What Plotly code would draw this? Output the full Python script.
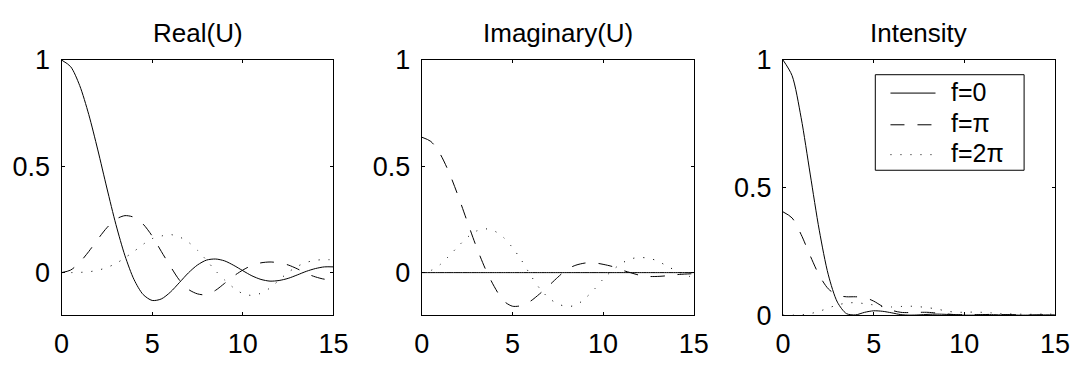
import plotly.graph_objects as go

# ---------------- data ----------------
v = [0.0, 0.5, 1.0, 1.5, 2.0, 2.5, 3.0, 3.5, 4.0, 4.5, 5.0, 5.5, 6.0, 6.5, 7.0, 7.5,
     8.0, 8.5, 9.0, 9.5, 10.0, 10.5, 11.0, 11.5, 12.0, 12.5, 13.0, 13.5, 14.0, 14.5, 15.0]

re_f0 = [1.000, 0.969, 0.880, 0.744, 0.577, 0.398, 0.226, 0.079, -0.033, -0.103, -0.131,
         -0.124, -0.092, -0.047, -0.001, 0.036, 0.059, 0.064, 0.055, 0.034, 0.009, -0.015,
         -0.032, -0.040, -0.037, -0.027, -0.011, 0.006, 0.019, 0.027, 0.027]
re_fpi = [0.000, 0.012, 0.048, 0.099, 0.157, 0.211, 0.251, 0.268, 0.260, 0.228, 0.172,
          0.100, 0.030, -0.035, -0.079, -0.100, -0.104, -0.083, -0.050, -0.016, 0.012,
          0.034, 0.046, 0.050, 0.046, 0.036, 0.018, -0.004, -0.020, -0.031, -0.033]
re_f2pi = [0.000, 0.000, 0.001, 0.004, 0.011, 0.024, 0.043, 0.070, 0.100, 0.133, 0.160,
           0.172, 0.179, 0.168, 0.143, 0.105, 0.058, 0.008, -0.035, -0.072, -0.099,
           -0.107, -0.097, -0.072, -0.035, 0.001, 0.029, 0.048, 0.058, 0.061, 0.060]

im_f0 = [0.0, 0.0, 0.0, 0.0, 0.0, 0.0, 0.0, 0.0, 0.0, 0.0, 0.0, 0.0, 0.0, 0.0, 0.0, 0.0,
         0.0, 0.0, 0.0, 0.0, 0.0, 0.0, 0.0, 0.0, 0.0, 0.0, 0.0, 0.0, 0.0, 0.0, 0.0]
im_fpi = [0.637, 0.617, 0.560, 0.472, 0.362, 0.242, 0.124, 0.019, -0.066, -0.132, -0.158,
          -0.155, -0.134, -0.100, -0.062, -0.022, 0.015, 0.035, 0.045, 0.046, 0.039,
          0.029, 0.013, 0.000, -0.012, -0.018, -0.018, -0.015, -0.010, -0.007, -0.005]
im_f2pi = [0.000, 0.010, 0.037, 0.078, 0.123, 0.165, 0.195, 0.206, 0.196, 0.166, 0.118,
           0.058, -0.012, -0.074, -0.119, -0.147, -0.159, -0.153, -0.122, -0.080, -0.031,
           0.010, 0.042, 0.064, 0.071, 0.068, 0.055, 0.032, 0.010, -0.009, -0.025]

int_f0 = [1.000, 0.939, 0.774, 0.553, 0.333, 0.158, 0.051, 0.006, 0.001, 0.011, 0.017,
          0.015, 0.009, 0.002, 0.000, 0.001, 0.003, 0.004, 0.003, 0.001, 0.000, 0.000,
          0.001, 0.002, 0.001, 0.001, 0.000, 0.000, 0.000, 0.001, 0.001]
int_fpi = [0.405, 0.381, 0.316, 0.233, 0.156, 0.103, 0.078, 0.072, 0.072, 0.069, 0.055,
           0.034, 0.019, 0.011, 0.010, 0.011, 0.011, 0.008, 0.005, 0.002, 0.002, 0.002,
           0.002, 0.003, 0.002, 0.002, 0.001, 0.000, 0.001, 0.001, 0.001]
int_f2pi = [0.000, 0.000, 0.001, 0.006, 0.015, 0.028, 0.040, 0.047, 0.049, 0.045, 0.040,
            0.033, 0.032, 0.034, 0.035, 0.033, 0.029, 0.024, 0.016, 0.012, 0.011, 0.012,
            0.011, 0.009, 0.006, 0.005, 0.004, 0.003, 0.004, 0.004, 0.004]

titles = ["Real(U)", "Imaginary(U)", "Intensity"]
legend_labels = ["f=0", "f=\u03c0", "f=2\u03c0"]
x_ticks = [0, 5, 10, 15]
y_ticks = [0, 0.5, 1]
y_ticktext = ["0", "0.5", "1"]

# ---------------- styling ----------------
W, H = 1090, 369
FONT = "Liberation Sans, Arial, Helvetica, sans-serif"
DASH_SOLID = "solid"
DASH_DASHED = "14px,13px"
DASH_DOTTED = "1px,9px"
styles = [DASH_SOLID, DASH_DASHED, DASH_DOTTED]

fig = go.Figure()

panels = [
    ("x", "y", [re_f0, re_fpi, re_f2pi]),
    ("x2", "y2", [im_f0, im_fpi, im_f2pi]),
    ("x3", "y3", [int_f0, int_fpi, int_f2pi]),
]
for xa, ya, series in panels:
    for s, dash, name in zip(series, styles, legend_labels):
        fig.add_trace(go.Scatter(
            x=v, y=s, mode="lines", name=name, xaxis=xa, yaxis=ya,
            line=dict(color="black", width=1, dash=dash, shape="spline", smoothing=0.8),
            showlegend=False, hoverinfo="skip"))

x_domains = [[54.7 / W, 332.5 / W], [422.7 / W, 700.5 / W], [791.7 / W, 1069.5 / W]]
y_domain = [1 - 326.7 / H, 1 - 49 / H]

common = dict(showline=True, linecolor="black", linewidth=1, mirror="allticks",
              ticks="inside", ticklen=3, tickwidth=1, tickcolor="black",
              showgrid=False, zeroline=False,
              tickfont=dict(family=FONT, size=27, color="black"))

layout_axes = {}
for i, dom in enumerate(x_domains):
    k = "" if i == 0 else str(i + 1)
    layout_axes["xaxis" + k] = dict(common, domain=dom, range=[0, 15], tickmode="array",
                                    tickvals=x_ticks, anchor="y" + k, ticklabelstandoff=4)
    yr = [-0.2, 1] if i < 2 else [0, 1]
    layout_axes["yaxis" + k] = dict(common, domain=y_domain, range=yr, tickmode="array",
                                    tickvals=y_ticks, ticktext=y_ticktext, anchor="x" + k,
                                    ticklabelstandoff=5)

annotations = []
for dom, t in zip(x_domains, titles):
    annotations.append(dict(text=t, x=(dom[0] + dom[1]) / 2, y=1 - 20 / H,
                            xref="paper", yref="paper", xanchor="center", yanchor="middle",
                            showarrow=False, font=dict(family=FONT, size=26, color="black")))

# legend box (inside the Intensity panel)
shapes = [dict(type="rect", xref="paper", yref="paper",
               x0=886 / W, x1=1038 / W, y0=1 - 169 / H, y1=1 - 65 / H,
               line=dict(color="black", width=1), fillcolor="white", layer="above")]
rows_line = [85.0, 119.5, 152.0]
rows_text = [84.0, 118.0, 150.0]
for ry, ty, dash, lab in zip(rows_line, rows_text, styles, legend_labels):
    shapes.append(dict(type="line", xref="paper", yref="paper",
                       x0=901.5 / W, x1=947.5 / W, y0=1 - ry / H, y1=1 - ry / H,
                       line=dict(color="black", width=1, dash=dash), layer="above"))
    annotations.append(dict(text=lab, x=961 / W, y=1 - ty / H, xref="paper", yref="paper",
                            xanchor="left", yanchor="middle", showarrow=False,
                            font=dict(family=FONT, size=25, color="black")))

fig.update_layout(
    width=W, height=H, margin=dict(l=0, r=0, t=0, b=0),
    paper_bgcolor="white", plot_bgcolor="white",
    showlegend=False, annotations=annotations, shapes=shapes,
    **layout_axes)

fig.write_html("out.html", post_script="document.body.style.margin='0';")
